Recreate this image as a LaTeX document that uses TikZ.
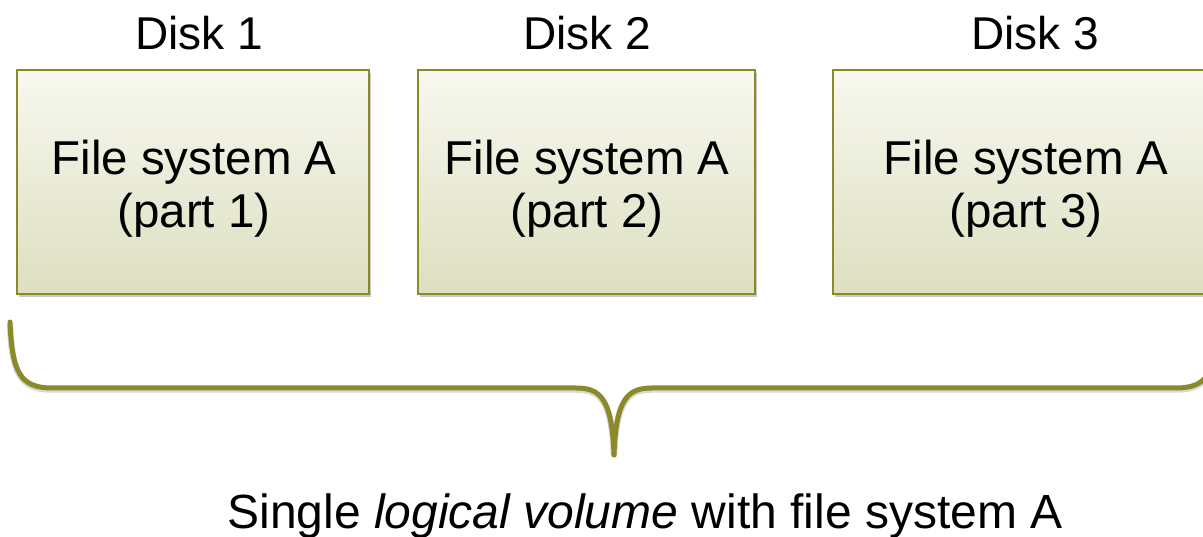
\documentclass[tikz,border=0pt]{standalone}
\usepackage{fontspec}
\setmainfont{Liberation Sans}
\usetikzlibrary{shadows}
\definecolor{olive}{HTML}{8A8A28}
\definecolor{boxtop}{HTML}{F8F8F0}
\definecolor{boxbot}{HTML}{DCDFC0}
\tikzset{
  diskbox/.style={draw=olive, line width=2.2pt, top color=boxtop, bottom color=boxbot,
    minimum height=224pt, inner sep=0pt,
    drop shadow={shadow xshift=2pt, shadow yshift=-3pt, opacity=0.35, fill=black!60}},
  boxtext/.style={font=\fontsize{47.5}{54}\selectfont, anchor=base, inner sep=0pt},
  disklabel/.style={font=\fontsize{46}{55}\selectfont, anchor=base},
  bracepath/.style={draw=olive, line width=5pt, line cap=round, line join=round,
    preaction={draw=black!30, line width=6.5pt, transform canvas={yshift=-1.5pt}, opacity=0.5}},
}
\begin{document}
\begin{tikzpicture}[x=1pt,y=-1pt]
\useasboundingbox (0,0) rectangle (1203,537);
\clip (0,0) rectangle (1203,537);
\fill[white] (0,0) rectangle (1203,537);

\node[disklabel] (d1) at (199,50) {Disk 1};
\node[disklabel] (d2) at (587,50) {Disk 2};
\node[disklabel] (d3) at (1035,50) {Disk 3};

\node[diskbox, minimum width=352pt] (b1) at (193,182) {};
\node[diskbox, minimum width=337pt] (b2) at (586.5,182) {};
\node[diskbox, minimum width=384pt] (b3) at (1025,182) {};

\node[boxtext] (t1a) at (194,175) {File system A};
\node[boxtext] (t1b) at (194,228) {(part 1)};
\node[boxtext] (t2a) at (587,175) {File system A};
\node[boxtext] (t2b) at (587,228) {(part 2)};
\node[boxtext] (t3a) at (1026,175) {File system A};
\node[boxtext] (t3b) at (1026,228) {(part 3)};

\coordinate (bl) at (10,322);
\coordinate (tip) at (614,455);
\coordinate (br) at (1218,322);
\path[bracepath] (bl) .. controls (12,372) and (20,388) .. (52,388)
  -- (576,388) .. controls (600,388) and (612,398) .. (tip)
  .. controls (616,398) and (628,388) .. (652,388)
  -- (1176,388) .. controls (1208,388) and (1216,372) .. (br);

\node[font=\fontsize{48}{56}\selectfont, anchor=base] (lv) at (645,528) {Single \textit{logical volume} with file system A};
\end{tikzpicture}
\end{document}
